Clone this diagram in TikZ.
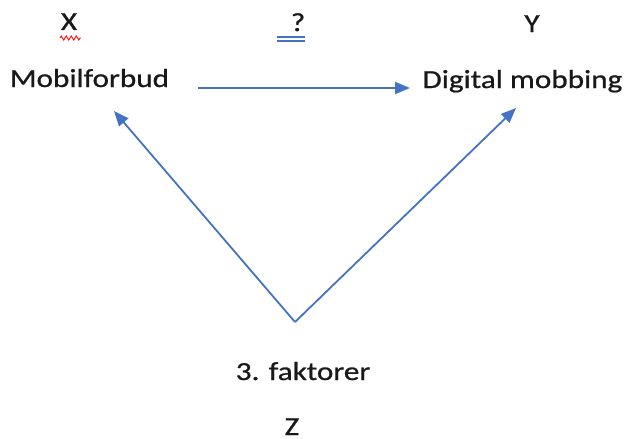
\documentclass[tikz,border=0pt]{standalone}
\usepackage{fontspec}
\setmainfont{Carlito}[FakeStretch=1.2,FakeBold=0.8]
\usetikzlibrary{arrows.meta,decorations.pathmorphing}
\definecolor{officeblue}{RGB}{68,114,196}
\tikzset{
    lbl/.style={inner sep=0pt,anchor=base,font=\fontsize{26}{30}\selectfont,text=black!90},
    arr/.style={draw=officeblue,line width=1.8pt,-{Triangle[length=15pt,width=12pt]}}
}
\begin{document}
\begin{tikzpicture}[x=1pt,y=-1pt]
    \useasboundingbox (0,0) rectangle (627,439);

    \node[lbl] (x) at (69,30) {X};
    \node[lbl] (q) at (298,31) {?};
    \node[lbl] (y) at (532,32) {Y};
    \node[lbl] (mobil) at (89.5,87) {Mobilforbud};
    \node[lbl] (dig) at (522.5,88) {Digital mobbing};
    \node[lbl] (fak) at (303,380) {3. faktorer};
    \node[lbl] (z) at (292,435) {Z};

    \coordinate (h1) at (198,88);
    \coordinate (h2) at (410,88);
    \coordinate (apex) at (295,322);
    \coordinate (lt) at (114,111);
    \coordinate (rt) at (516,108);

    \path[arr] (h1) -- (h2);
    \path[arr] (apex) -- (lt);
    \path[arr] (apex) -- (rt);

    % marks under X and ?
    \draw[red,line width=0.9pt,decorate,
          decoration={zigzag,segment length=5pt,amplitude=2pt}] (60,38) -- (81,38);
    \draw[officeblue,line width=1.2pt] (277,37) -- (305,37) (277,41) -- (305,41);
\end{tikzpicture}
\end{document}
